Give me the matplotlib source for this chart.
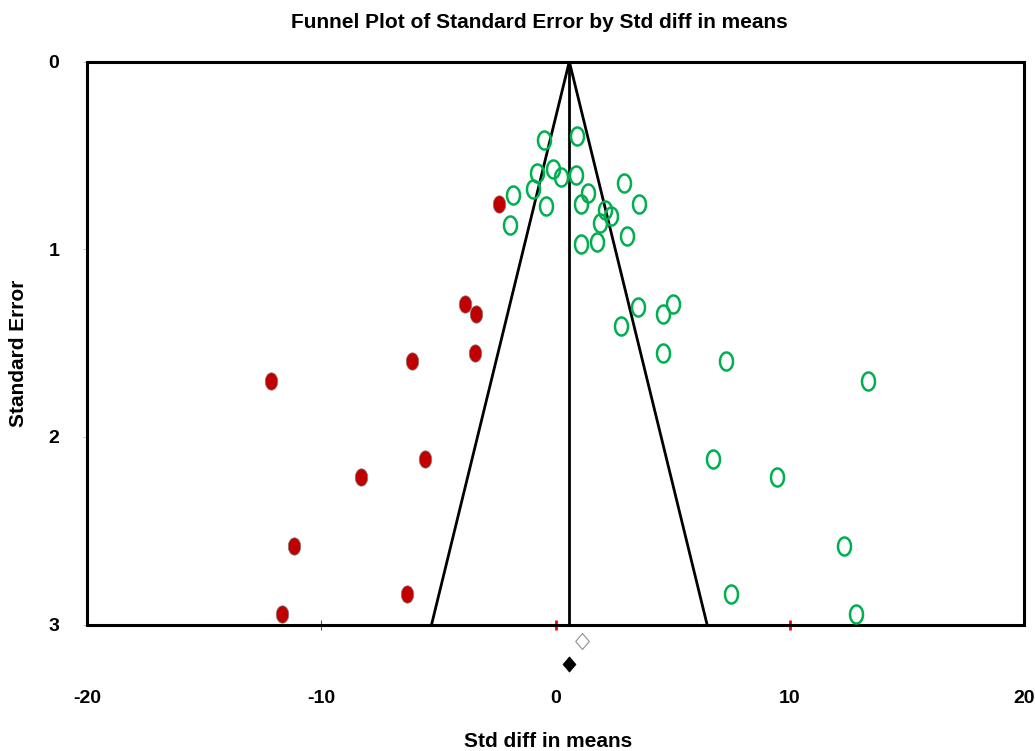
import matplotlib
matplotlib.use('Agg')
import matplotlib.pyplot as plt
import numpy as np

plt.rcParams['font.family'] = ['Liberation Sans', 'DejaVu Sans']
plt.rcParams['font.weight'] = 'bold'
plt.rcParams['axes.unicode_minus'] = False

# observed studies (open green)
obs_x = [-0.48, 0.93, -0.78, -0.12, 0.23, 0.86, -0.97, -1.80, -0.42, 1.37,
         1.10, 2.94, 3.58, 2.11, 2.37, 1.91, -1.94, 3.06, 1.76, 1.08,
         5.03, 3.53, 4.58, 2.81, 4.58, 7.26, 13.32, 6.73, 9.45, 12.33,
         7.48, 12.83]
obs_se = [0.418, 0.397, 0.596, 0.573, 0.614, 0.603, 0.678, 0.713, 0.768, 0.702,
          0.759, 0.647, 0.759, 0.791, 0.823, 0.859, 0.873, 0.931, 0.963, 0.974,
          1.292, 1.310, 1.345, 1.411, 1.553, 1.594, 1.704, 2.116, 2.212, 2.582,
          2.837, 2.942]

# imputed studies (filled red)
imp_x = [-2.42, -3.86, -3.41, -3.42, -6.11, -12.16, -5.57, -8.29, -11.15, -6.33, -11.67]
imp_se = [0.761, 1.292, 1.345, 1.555, 1.596, 1.704, 2.116, 2.212, 2.582, 2.837, 2.942]

observed_mean = 1.12
adjusted_mean = 0.59
se_max = 3.0
z = 1.96

xticks = [-20, -10, 0, 10, 20]
yticks = [0, 1, 2, 3]

fig = plt.figure(figsize=(10.35, 7.51), dpi=100)
ax = fig.add_axes([87 / 1035, 1 - 624.5 / 751, 937 / 1035, 563 / 751])

# funnel
ax.plot([adjusted_mean - z * se_max, adjusted_mean, adjusted_mean + z * se_max],
        [se_max, 0, se_max], color='black', lw=2, zorder=2)
ax.plot([adjusted_mean, adjusted_mean], [0, se_max], color='black', lw=2, zorder=2)

t = np.linspace(0, 2 * np.pi, 60)
ellipse = list(zip(0.72 * np.cos(t), np.sin(t)))
diamond = [(0, 1), (0.85, 0), (0, -1), (-0.85, 0), (0, 1)]

ax.plot(obs_x, obs_se, ls='none', marker=ellipse, ms=13, mfc='none',
        mec='#00B050', mew=1.8, zorder=3)
ax.plot(imp_x, imp_se, ls='none', marker=ellipse, ms=12.5, mfc='#C00000',
        mec='#808080', mew=0.5, zorder=3)

ax.plot([observed_mean], [3.09], ls='none', marker=diamond, ms=11.5, mfc='white',
        mec='#909090', mew=0.8, clip_on=False, zorder=4)
ax.plot([adjusted_mean], [3.21], ls='none', marker=diamond, ms=11, mfc='black',
        mec='black', mew=0.5, clip_on=False, zorder=4)

ax.set_xlim(-20, 20)
ax.set_ylim(3, 0)
ax.set_xticks(xticks)
ax.set_yticks(yticks)
ax.tick_params(axis='x', direction='inout', length=7, width=0.8, color='#555555',
               pad=44, labelsize=14)
ax.tick_params(axis='y', direction='out', length=3, width=0.5, color='#aaaaaa',
               pad=17, labelsize=14)
for tick, val in zip(ax.xaxis.get_major_ticks(), xticks):
    if val in (0, 10):
        tick.tick1line.set_markeredgecolor('red')
        tick.tick1line.set_markeredgewidth(2)
    elif val in (-20, 20):
        tick.tick1line.set_visible(False)

for s in ax.spines.values():
    s.set_linewidth(2.2)

ax.set_xlabel('Std diff in means', fontsize=15, fontweight='bold', va='center')
ax.xaxis.set_label_coords(0.492, -0.207)
ax.set_ylabel('Standard Error', fontsize=15, fontweight='bold', va='center')
ax.yaxis.set_label_coords(-0.0736, 0.482)

fig.text(539 / 1035, 1 - 22 / 751, 'Funnel Plot of Standard Error by Std diff in means',
         ha='center', va='center', fontsize=15, fontweight='bold')

fig.savefig('out.png', dpi=100)
